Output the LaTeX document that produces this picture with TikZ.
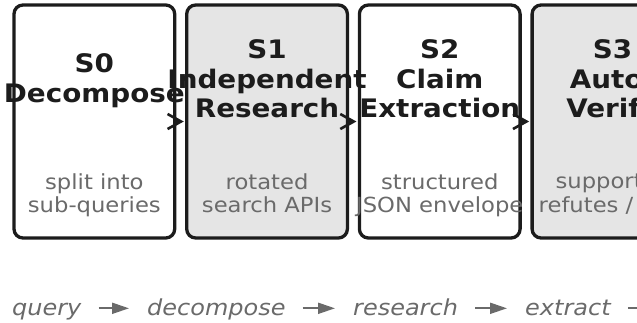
\documentclass[tikz,border=0pt]{standalone}
\usepackage{fontspec}
\setmainfont{DejaVu Sans}[FakeStretch=1.09]
\usetikzlibrary{arrows.meta}
\definecolor{edge}{HTML}{1C1C1C}
\definecolor{shade}{HTML}{E5E5E5}
\definecolor{muted}{HTML}{6A6A6A}
\tikzset{
  stage/.style={draw=edge, line width=3.3pt, rounded corners=9pt,
    minimum width=160.7pt, minimum height=233pt, inner sep=0pt},
  plainstage/.style={stage, fill=white},
  shadedstage/.style={stage, fill=shade},
  ttl/.style={font=\bfseries\fontsize{25.5}{29.4}\selectfont, text=edge,
    align=center, inner sep=0pt, anchor=north},
  desc/.style={font=\fontsize{20.8}{23.7}\selectfont, text=muted,
    align=center, inner sep=0pt, anchor=north},
  flowword/.style={font=\itshape\fontsize{22}{26}\selectfont, text=muted,
    inner sep=0pt, anchor=base west},
  link/.style={draw=edge, line width=2.6pt, shorten >=1.3pt,
    -{Straight Barb[length=13.5pt,width=15pt]}},
  flowarr/.style={draw=muted, line width=2pt,
    -{Triangle[length=17pt,width=11pt]}, shorten <=17pt, shorten >=18pt},
}
\begin{document}
\begin{tikzpicture}[x=1pt,y=-1pt]
\useasboundingbox (0,0) rectangle (637,322);
\clip (0,0) rectangle (637,322);
% stage boxes
\node[plainstage]  (s0) at (94.35,121.5) {};
\node[shadedstage] (s1) at (267.05,121.5) {};
\node[plainstage]  (s2) at (439.75,121.5) {};
\node[shadedstage] (s3) at (612.45,121.5) {};
% titles
\node[ttl] (t0) at (94.35,53.75) {S0\\Decompose};
\node[ttl] (t1) at (267.05,39.75) {S1\\Independent\\Research};
\node[ttl] (t2) at (439.75,39.75) {S2\\Claim\\Extraction};
\node[ttl] (t3) at (612.45,39.75) {S3\\Auto-\\Verify};
% descriptions
\node[desc] (d0) at (94.35,173.2) {split into\\sub-queries};
\node[desc] (d1) at (267.05,173.2) {rotated\\search APIs};
\node[desc] (d2) at (439.75,173.2) {structured\\JSON envelope};
\node[desc] (d3) at (612.45,173.2) {supports /\\refutes / skip};
% connectors between stages
\draw[link] (s0.east) -- (s1.west);
\draw[link] (s1.east) -- (s2.west);
\draw[link] (s2.east) -- (s3.west);
% flow line
\node[flowword] (w0) at (12,315.5) {query};
\node[flowword] (w1) at (147,315.5) {decompose};
\node[flowword] (w2) at (353,315.5) {research};
\node[flowword] (w3) at (525,315.5) {extract};
\coordinate (wend) at ([xshift=90pt,yshift=7.2pt]w3.base east);
\draw[flowarr] ([yshift=7.2pt]w0.base east) -- ([yshift=7.2pt]w1.base west);
\draw[flowarr] ([yshift=7.2pt]w1.base east) -- ([yshift=7.2pt]w2.base west);
\draw[flowarr] ([yshift=7.2pt]w2.base east) -- ([yshift=7.2pt]w3.base west);
\draw[flowarr] ([yshift=7.2pt]w3.base east) -- (wend);
\end{tikzpicture}
\end{document}
